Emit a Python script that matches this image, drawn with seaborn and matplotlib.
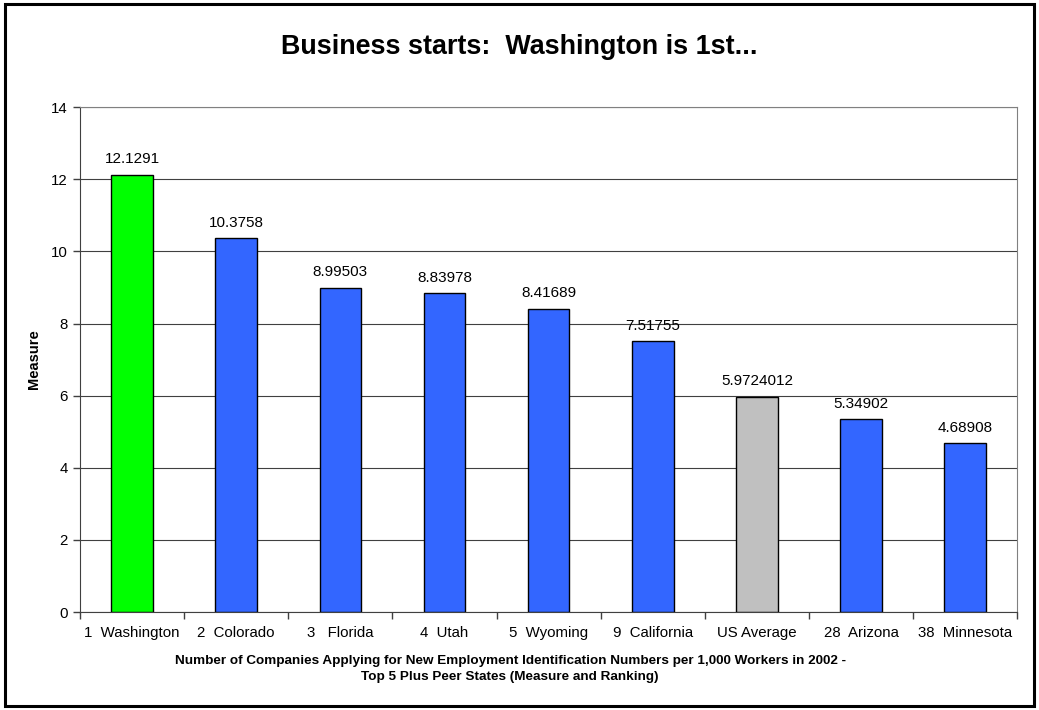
import matplotlib
matplotlib.use("Agg")
import matplotlib.pyplot as plt
import seaborn as sns
import pandas as pd
from matplotlib.patches import Rectangle


categories = ["1  Washington", "2  Colorado", "3   Florida", "4  Utah", "5  Wyoming",
              "9  California", "US Average", "28  Arizona", "38  Minnesota"]
values = [12.1291, 10.3758, 8.99503, 8.83978, 8.41689, 7.51755, 5.9724012, 5.34902, 4.68908]
value_labels = ["12.1291", "10.3758", "8.99503", "8.83978", "8.41689", "7.51755",
                "5.9724012", "5.34902", "4.68908"]
bar_colors = ["#00FF00", "#3366FF", "#3366FF", "#3366FF", "#3366FF", "#3366FF",
              "#C0C0C0", "#3366FF", "#3366FF"]

sns.set_style("white")
plt.rcParams["font.family"] = ["Liberation Sans", "DejaVu Sans"]
plt.rcParams["text.color"] = "black"
plt.rcParams["axes.labelcolor"] = "black"
plt.rcParams["xtick.color"] = "black"
plt.rcParams["ytick.color"] = "black"

df = pd.DataFrame({"state": categories, "measure": values})

fig = plt.figure(figsize=(10.39, 7.10), dpi=100)
ax = fig.add_axes([0.077, 0.138, 0.902, 0.711])

sns.barplot(data=df, x="state", y="measure", hue="state", palette=bar_colors,
            legend=False, width=0.4, edgecolor="black", linewidth=1.0, ax=ax,
            saturation=1)

for container, lab in zip(ax.containers, value_labels):
    ax.bar_label(container, labels=[lab], padding=6, fontsize=11)

ax.set_xlim(-0.5, len(categories) - 0.5)
ax.set_ylim(0, 14)
ax.set_yticks(range(0, 15, 2))
ax.yaxis.grid(True, color="#404040", linewidth=0.8)
ax.set_axisbelow(True)

# ticks between categories, labels centred
ax.set_xticks(range(len(categories)))
ax.set_xticklabels(categories, fontsize=10.8)
ax.set_xticks([i - 0.5 for i in range(len(categories) + 1)], minor=True)
ax.tick_params(axis="x", which="major", bottom=True, length=0, pad=10)
ax.tick_params(axis="x", which="minor", bottom=True, length=5, width=1, color="#404040", direction="out")
ax.tick_params(axis="y", left=True, length=5, width=1, color="#404040", direction="out",
               labelsize=10.8, pad=4)

for side in ["top", "right"]:
    ax.spines[side].set_visible(True)
    ax.spines[side].set_color("#808080")
ax.spines["left"].set_color("#404040")
ax.spines["bottom"].set_color("#404040")

ax.set_ylabel("Measure", fontsize=10.5, fontweight="bold")
ax.yaxis.set_label_coords(-0.042, 0.5)
ax.set_xlabel("Number of Companies Applying for New Employment Identification Numbers per 1,000 Workers in 2002 -\n"
              "Top 5 Plus Peer States (Measure and Ranking)", fontsize=9.7, fontweight="bold",
              linespacing=1.45)
ax.xaxis.set_label_coords(0.459, -0.085)

fig.text(0.5, 0.934, "Business starts:  Washington is 1st...", ha="center", va="center",
         fontsize=19.4, fontweight="bold")

fig.patches.append(Rectangle((0.005, 0.006), 0.99, 0.989, transform=fig.transFigure,
                             fill=False, edgecolor="black", linewidth=2.2))

fig.savefig("out.png", dpi=100)
